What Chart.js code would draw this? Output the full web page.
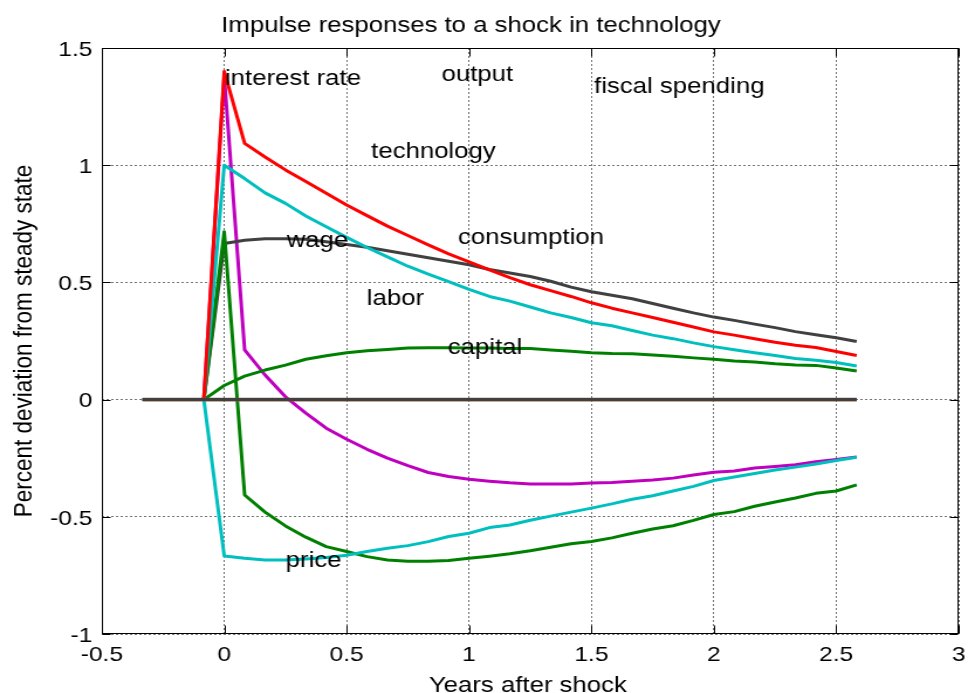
<!DOCTYPE html>
<html>
<head>
<meta charset="utf-8">
<script src="https://cdn.jsdelivr.net/npm/chart.js@4.4.1/dist/chart.umd.min.js"></script>
<style>
  html, body { margin: 0; padding: 0; background: #ffffff; overflow: hidden; }
  #irf { display: block; }
</style>
</head>
<body>
<!-- drawn on a narrower bitmap and widened by the browser, as the figure is exported wide -->
<canvas id="irf" width="827" height="693" style="width:968px;height:693px"></canvas>
<script>
// Sample grid: months relative to the shock (converted to years below)
const months = [-4, -3, -2, -1, 0, 1, 2, 3, 4, 5, 6, 7, 8, 9, 10, 11, 12, 13, 14, 15,
                16, 17, 18, 19, 20, 21, 22, 23, 24, 25, 26, 27, 28, 29, 30, 31];

// Percent deviation from steady state, one value per month above
const output = [0, 0, 0, 0,
  1.40, 1.093, 1.035, 0.98, 0.93, 0.88, 0.83, 0.785, 0.74, 0.70, 0.66, 0.622, 0.588,
  0.553, 0.52, 0.49, 0.465, 0.44, 0.413, 0.39, 0.37, 0.35, 0.33, 0.31, 0.289,
  0.275, 0.26, 0.245, 0.232, 0.222, 0.205, 0.188];
const technology = [0, 0, 0, 0,
  1.0, 0.943, 0.882, 0.837, 0.783, 0.737, 0.692, 0.649, 0.609, 0.569, 0.535, 0.503, 0.47,
  0.44, 0.42, 0.395, 0.37, 0.35, 0.328, 0.315, 0.295, 0.275, 0.26, 0.242, 0.226,
  0.213, 0.2, 0.188, 0.175, 0.168, 0.158, 0.143];
const wage = [0, 0, 0, 0,
  0.666, 0.68, 0.686, 0.686, 0.684, 0.673, 0.662, 0.65, 0.635, 0.62, 0.605, 0.59, 0.575,
  0.555, 0.54, 0.525, 0.505, 0.48, 0.46, 0.445, 0.43, 0.41, 0.39, 0.37, 0.352,
  0.338, 0.322, 0.307, 0.29, 0.277, 0.264, 0.248];
const interestRate = [0, 0, 0, 0,
  1.38, 0.212, 0.105, 0.012, -0.058, -0.122, -0.169, -0.212, -0.25, -0.282, -0.311, -0.328, -0.34,
  -0.348, -0.355, -0.36, -0.36, -0.36, -0.356, -0.354, -0.348, -0.343, -0.335, -0.322, -0.31,
  -0.305, -0.292, -0.285, -0.278, -0.265, -0.255, -0.245];
const capital = [0, 0, 0, 0,
  0.06, 0.10, 0.126, 0.147, 0.172, 0.187, 0.2, 0.208, 0.214, 0.22, 0.221, 0.221, 0.22,
  0.22, 0.218, 0.218, 0.212, 0.206, 0.2, 0.197, 0.196, 0.19, 0.185, 0.178, 0.172,
  0.165, 0.16, 0.153, 0.148, 0.146, 0.135, 0.122];
const labor = [0, 0, 0, 0,
  0.716, -0.407, -0.48, -0.539, -0.587, -0.627, -0.648, -0.67, -0.684, -0.69, -0.69, -0.686, -0.677,
  -0.668, -0.658, -0.645, -0.63, -0.615, -0.605, -0.59, -0.57, -0.552, -0.538, -0.515, -0.49,
  -0.478, -0.455, -0.437, -0.42, -0.4, -0.39, -0.364];
const price = [0, 0, 0, 0,
  -0.667, -0.677, -0.684, -0.684, -0.68, -0.674, -0.664, -0.648, -0.634, -0.623, -0.606, -0.584, -0.57,
  -0.546, -0.535, -0.515, -0.497, -0.48, -0.463, -0.445, -0.425, -0.41, -0.39, -0.37, -0.345,
  -0.33, -0.315, -0.3, -0.288, -0.275, -0.26, -0.246];
const consumption = [0, 0, 0, 0, 0, 0, 0, 0, 0, 0, 0, 0, 0, 0, 0, 0, 0, 0,
                     0, 0, 0, 0, 0, 0, 0, 0, 0, 0, 0, 0, 0, 0, 0, 0, 0, 0];
const fiscalSpending = [0, 0, 0, 0, 0, 0, 0, 0, 0, 0, 0, 0, 0, 0, 0, 0, 0, 0,
                        0, 0, 0, 0, 0, 0, 0, 0, 0, 0, 0, 0, 0, 0, 0, 0, 0, 0];

// Axis ticks
const xTickValues = [-0.5, 0, 0.5, 1, 1.5, 2, 2.5, 3];
const xTickLabels = ['-0.5', '0', '0.5', '1', '1.5', '2', '2.5', '3'];
const yTickValues = [-1, -0.5, 0, 0.5, 1, 1.5];
const yTickLabels = ['-1', '-0.5', '0', '0.5', '1', '1.5'];

// In-plot variable names, anchored in data units (left edge, vertical middle)
const annotationText = ['interest rate', 'output', 'fiscal spending', 'technology', 'wage',
                        'consumption', 'labor', 'capital', 'price'];
const annotationX = [0.003, 0.888, 1.511, 0.6, 0.255, 0.955, 0.582, 0.913, 0.251];
const annotationY = [1.370, 1.385, 1.335, 1.058, 0.678, 0.688, 0.429, 0.219, -0.690];

const chartTitle = 'Impulse responses to a shock in technology';
const xTitle = 'Years after shock';
const yTitle = 'Percent deviation from steady state';

const FONT = "'Liberation Sans', Arial, Helvetica, sans-serif";
const years = months.map(m => m / 12);
const toPoints = vals => vals.map((v, i) => ({ x: years[i], y: v }));

function series(label, vals, color, width) {
  return {
    label, data: toPoints(vals),
    borderColor: color, backgroundColor: color,
    borderWidth: width || 3, pointRadius: 0, tension: 0,
    borderJoinStyle: 'round', fill: false
  };
}

// Frame, inward tick marks and all free-standing text
const frameAndText = {
  id: 'frameAndText',
  afterDatasetsDraw(chart) {
    const { ctx, chartArea: a, scales: { x, y } } = chart;
    ctx.save();
    ctx.strokeStyle = '#000000';
    ctx.lineWidth = 1;
    const L = Math.round(a.left) + 0.5, R = Math.round(a.right) - 0.5;
    const T = Math.round(a.top) + 0.5, B = Math.round(a.bottom) - 0.5;
    ctx.strokeRect(L, T, R - L, B - T);
    ctx.beginPath();
    xTickValues.forEach(v => {
      const px = Math.round(x.getPixelForValue(v)) + 0.5;
      ctx.moveTo(px, B); ctx.lineTo(px, B - 8);
      ctx.moveTo(px, T); ctx.lineTo(px, T + 8);
    });
    yTickValues.forEach(v => {
      const py = Math.round(y.getPixelForValue(v)) + 0.5;
      ctx.moveTo(L, py); ctx.lineTo(L + 7, py);
      ctx.moveTo(R, py); ctx.lineTo(R - 7, py);
    });
    ctx.stroke();

    ctx.fillStyle = '#000000';
    ctx.font = `22px ${FONT}`;
    ctx.textAlign = 'left';
    ctx.textBaseline = 'middle';
    annotationText.forEach((t, i) => {
      ctx.fillText(t, x.getPixelForValue(annotationX[i]), y.getPixelForValue(annotationY[i]));
    });
    ctx.restore();
  },
  afterDraw(chart) {
    const { ctx } = chart;
    ctx.save();
    ctx.fillStyle = '#000000';
    ctx.font = `22px ${FONT}`;
    ctx.textBaseline = 'alphabetic';
    ctx.textAlign = 'center';
    ctx.fillText(chartTitle, 402.4, 32);
    ctx.fillText(xTitle, 451, 692);
    ctx.translate(26.5, 341);
    ctx.rotate(-Math.PI / 2);
    ctx.font = `22.5px ${FONT}`;
    ctx.fillText(yTitle, 0, 0);
    ctx.restore();
  }
};

new Chart(document.getElementById('irf'), {
  type: 'line',
  data: {
    datasets: [
      series('fiscal spending', fiscalSpending, '#404040', 3),
      series('consumption', consumption, '#8c5a3c', 3.6),
      series('output', output, '#ff0000'),
      series('technology', technology, '#00bfbf'),
      series('price', price, '#00bfbf'),
      series('capital', capital, '#008000'),
      series('labor', labor, '#008000'),
      series('wage', wage, '#404040'),
      series('interest rate', interestRate, '#bf00bf')
    ]
  },
  options: {
    responsive: false,
    devicePixelRatio: 1,
    animation: false,
    events: [],
    layout: { padding: { top: 48, right: 8, bottom: 0, left: 0 } },
    plugins: { legend: { display: false }, title: { display: false }, tooltip: { enabled: false } },
    scales: {
      x: {
        type: 'linear', min: -0.5, max: 3,
        afterFit: s => { s.height = 59; s.paddingLeft = 0; s.paddingRight = 0; },
        afterBuildTicks: s => { s.ticks = xTickValues.map(v => ({ value: v })); },
        grid: { color: 'rgba(0,0,0,0.55)', lineWidth: 1, drawTicks: false },
        border: { display: false, dash: [2, 2] },
        ticks: {
          padding: 9, maxRotation: 0, autoSkip: false, color: '#000000',
          font: { family: FONT, size: 21 },
          callback: (v) => xTickLabels[xTickValues.indexOf(v)]
        }
      },
      y: {
        type: 'linear', min: -1, max: 1.5,
        afterFit: s => { s.width = 87; s.paddingTop = 0; s.paddingBottom = 0; },
        afterBuildTicks: s => { s.ticks = yTickValues.map(v => ({ value: v })); },
        grid: { color: 'rgba(0,0,0,0.55)', lineWidth: 1, drawTicks: false },
        border: { display: false, dash: [2, 2] },
        ticks: {
          padding: 8, labelOffset: 2, autoSkip: false, color: '#000000',
          font: { family: FONT, size: 21 },
          callback: (v) => yTickLabels[yTickValues.indexOf(v)]
        }
      }
    }
  },
  plugins: [frameAndText]
});
</script>
</body>
</html>
